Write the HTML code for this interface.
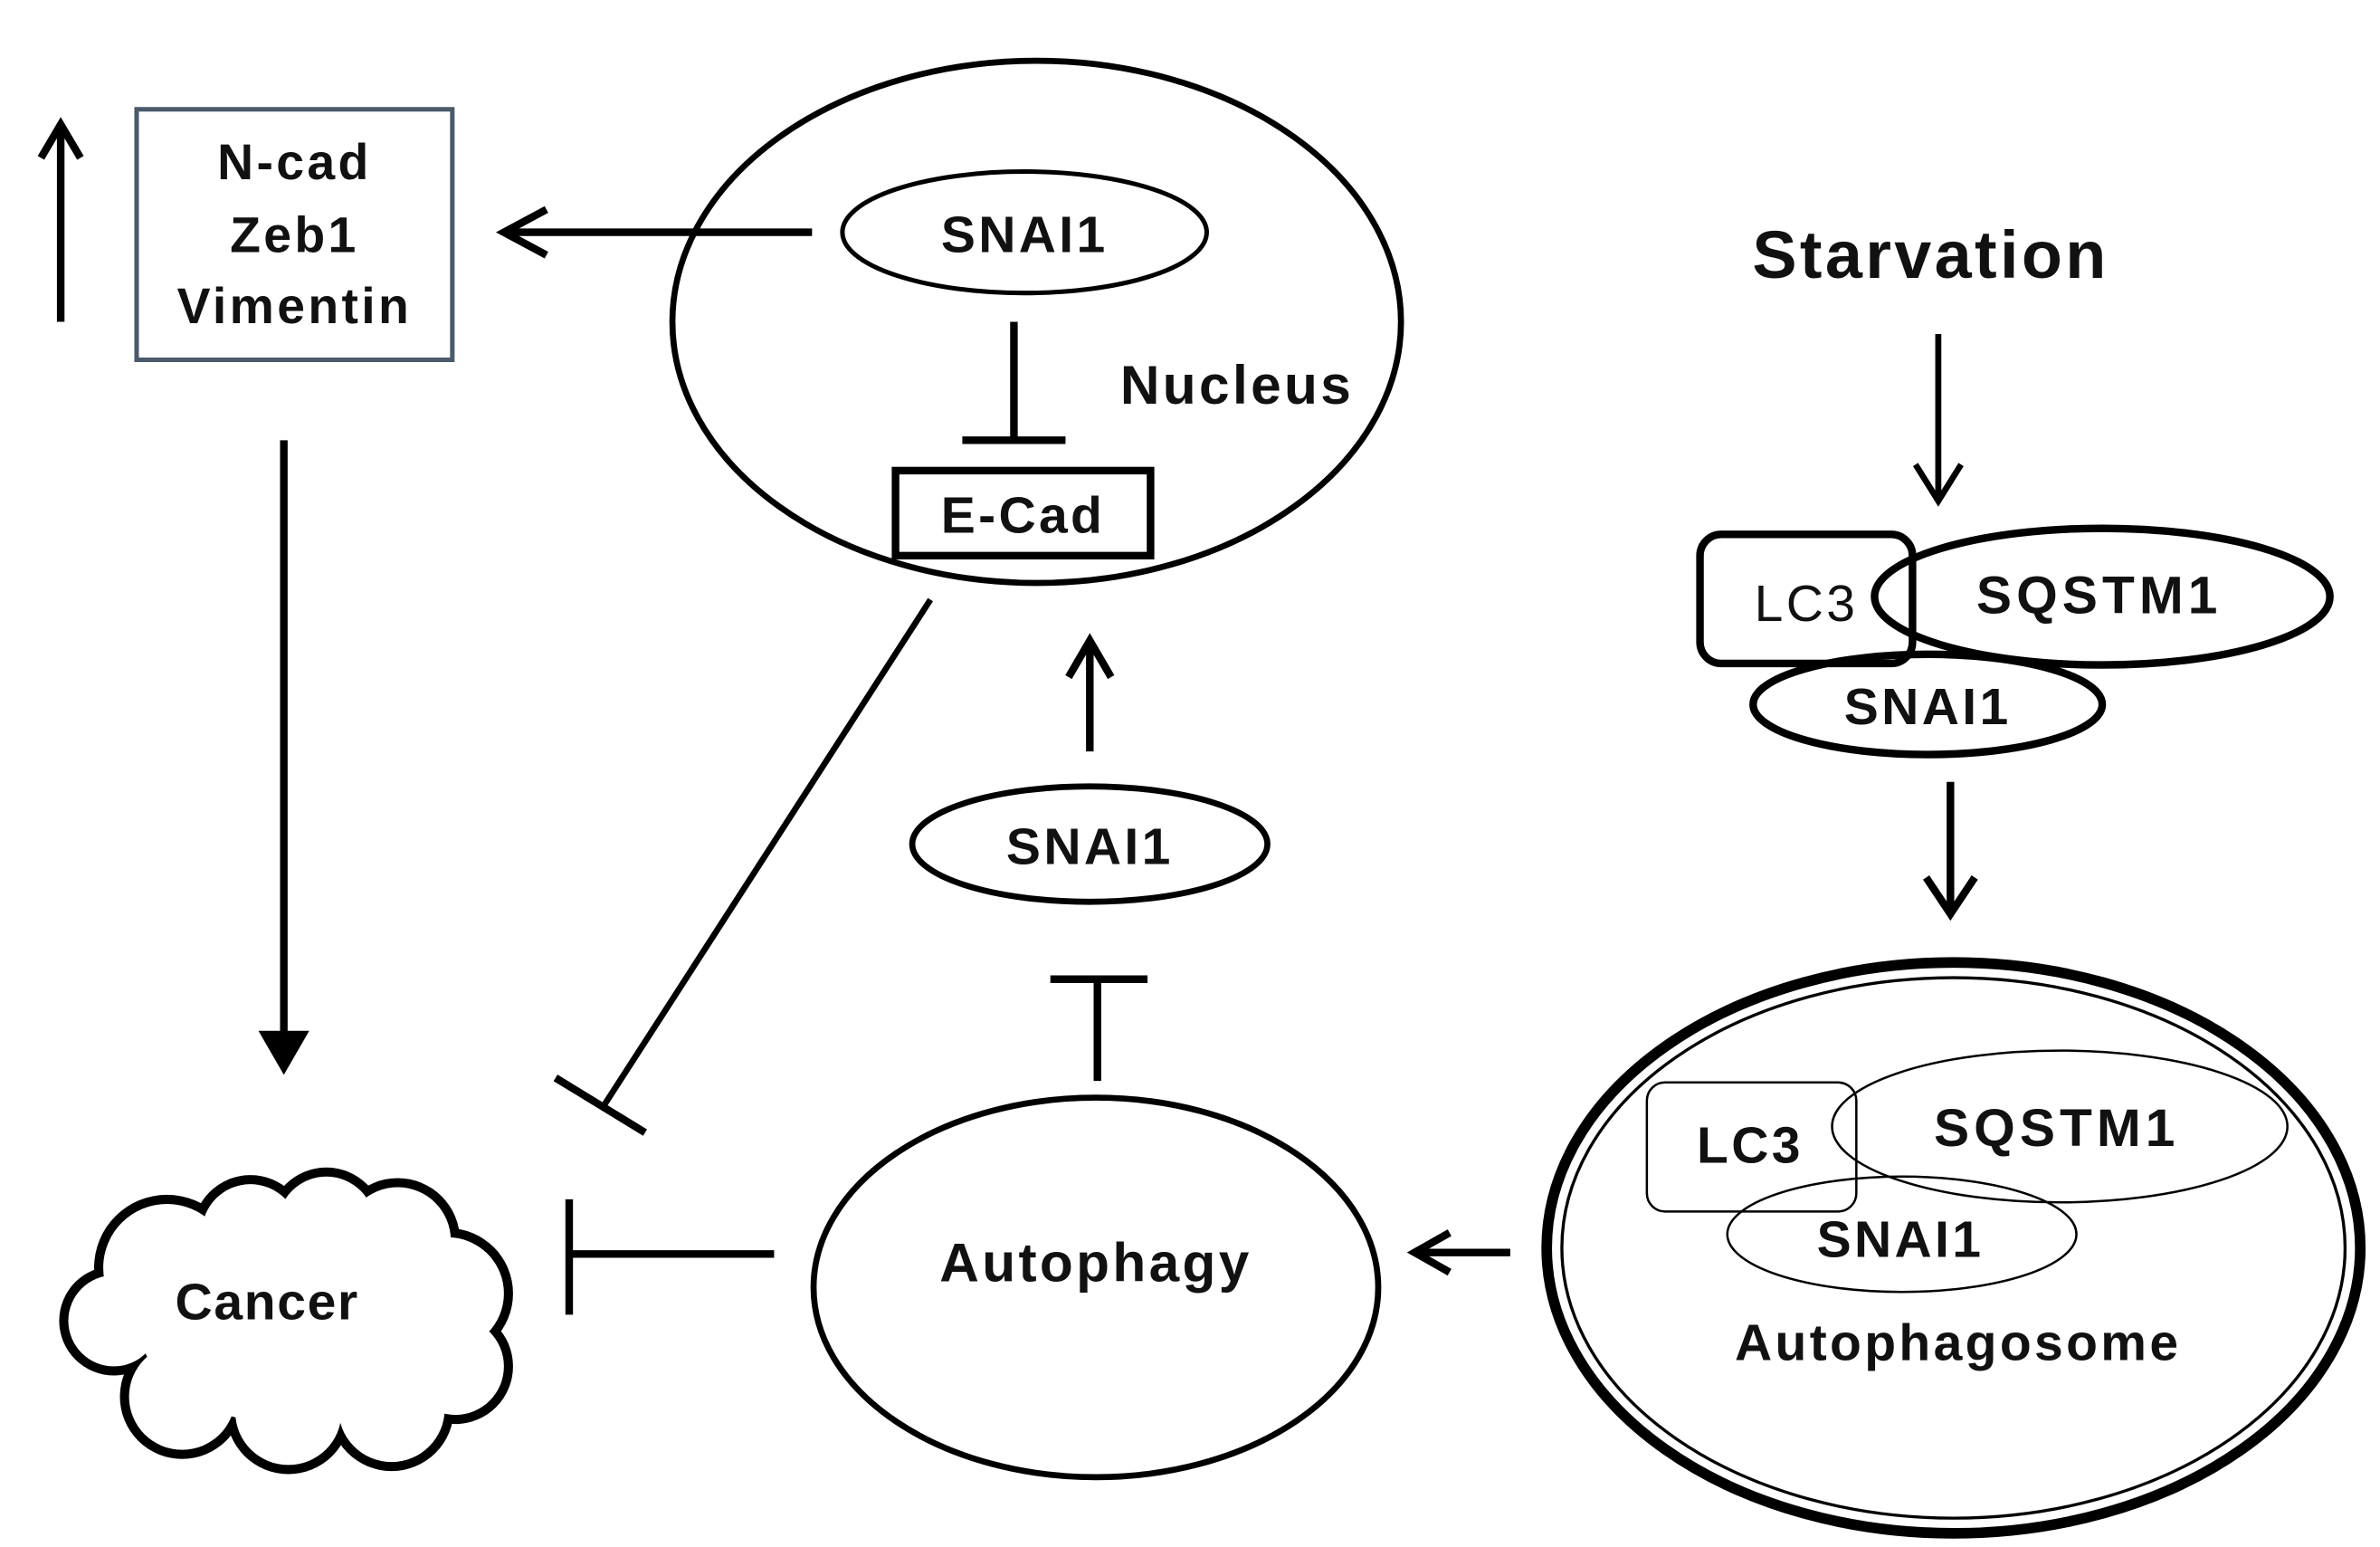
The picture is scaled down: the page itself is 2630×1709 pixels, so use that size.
<!DOCTYPE html>
<html><head><meta charset="utf-8"><style>
html,body{margin:0;padding:0;background:#fff}
svg{display:block}
text{font-family:"Liberation Sans",Arial,sans-serif;font-weight:bold;fill:#111;text-anchor:middle;letter-spacing:2px}
</style></head><body>
<svg width="2630" height="1709" viewBox="0 0 1568 1019" preserveAspectRatio="none" xmlns="http://www.w3.org/2000/svg">
<g stroke="#000" fill="none" stroke-linecap="butt">
<line x1="40" y1="212" x2="40" y2="84" stroke-width="5"/>
<path d="M27,104 L40,82 L53,104" stroke-width="5"/>
<rect x="90" y="72" width="208" height="165" stroke="#4a5a6a" stroke-width="3"/>
<line x1="535" y1="153" x2="334" y2="153" stroke-width="5"/>
<path d="M360,138 L332,153 L360,168" stroke-width="5"/>
<ellipse cx="683" cy="212" rx="240" ry="172" stroke-width="4"/>
<ellipse cx="675" cy="153" rx="120" ry="40" stroke-width="3"/>
<line x1="668" y1="212" x2="668" y2="290" stroke-width="5"/>
<line x1="634" y1="290" x2="702" y2="290" stroke-width="5"/>
<rect x="590" y="310" width="168" height="56" stroke-width="5"/>
<line x1="1277" y1="220" x2="1277" y2="328" stroke-width="4"/>
<path d="M1262,306 L1277,330 L1292,306" stroke-width="4"/>
<rect x="1120" y="352" width="140" height="85" rx="14" stroke-width="5"/>
<ellipse cx="1385" cy="393" rx="150" ry="45" stroke-width="5"/>
<ellipse cx="1270" cy="464" rx="115" ry="33" stroke-width="5"/>
<line x1="1285" y1="515" x2="1285" y2="600" stroke-width="5"/>
<path d="M1269,578 L1285,602 L1301,578" stroke-width="5"/>
<ellipse cx="1287" cy="822" rx="268" ry="188" stroke-width="7"/>
<ellipse cx="1287" cy="822" rx="258" ry="178" stroke-width="2"/>
<rect x="1085" y="713" width="138" height="85" rx="12" stroke-width="1.5"/>
<ellipse cx="1357" cy="742" rx="150" ry="50" stroke-width="1.5"/>
<ellipse cx="1253" cy="813" rx="115" ry="38" stroke-width="1.5"/>
<line x1="995" y1="825" x2="934" y2="825" stroke-width="5"/>
<path d="M955,812 L932,825 L955,838" stroke-width="5"/>
<ellipse cx="722" cy="848" rx="186" ry="125" stroke-width="4"/>
<line x1="723" y1="712" x2="723" y2="645" stroke-width="5"/>
<line x1="692" y1="645" x2="756" y2="645" stroke-width="5"/>
<ellipse cx="718" cy="556" rx="117" ry="38" stroke-width="4"/>
<line x1="718" y1="495" x2="718" y2="424" stroke-width="5"/>
<path d="M704,446 L718,422 L732,446" stroke-width="5"/>
<line x1="613" y1="395" x2="398" y2="728" stroke-width="4"/>
<line x1="366" y1="710" x2="425" y2="746" stroke-width="5"/>
<line x1="510" y1="826" x2="375" y2="826" stroke-width="5"/>
<line x1="375" y1="790" x2="375" y2="866" stroke-width="5"/>
<line x1="187" y1="290" x2="187" y2="690" stroke-width="5"/>
<path d="M172,680 L187,706 L202,680 Z" fill="#000" stroke-width="2"/>
</g>
<g fill="#000">
<circle cx="110" cy="835" r="48"/><circle cx="165" cy="812" r="38"/><circle cx="215" cy="807" r="38"/>
<circle cx="262" cy="817" r="41"/><circle cx="295" cy="852" r="43"/><circle cx="300" cy="900" r="38"/>
<circle cx="258" cy="928" r="41"/><circle cx="190" cy="930" r="41"/><circle cx="120" cy="920" r="41"/>
<circle cx="75" cy="870" r="36"/>
</g>
<g fill="#fff">
<circle cx="110" cy="835" r="42"/><circle cx="165" cy="812" r="32"/><circle cx="215" cy="807" r="32"/>
<circle cx="262" cy="817" r="35"/><circle cx="295" cy="852" r="37"/><circle cx="300" cy="900" r="32"/>
<circle cx="258" cy="928" r="35"/><circle cx="190" cy="930" r="35"/><circle cx="120" cy="920" r="35"/>
<circle cx="75" cy="870" r="30"/><ellipse cx="190" cy="868" rx="100" ry="70"/>
</g>
<text x="194" y="118" font-size="33">N-cad</text>
<text x="194" y="166" font-size="33">Zeb1</text>
<text x="194" y="213" font-size="33">Vimentin</text>
<text x="675" y="166" font-size="34">SNAI1</text>
<text x="815" y="266" font-size="36">Nucleus</text>
<text x="674" y="351" font-size="34">E-Cad</text>
<text x="1272" y="183" font-size="44">Starvation</text>
<text x="1190" y="409" font-size="34" style="font-weight:normal">LC3</text>
<text x="1383" y="404" font-size="35" style="letter-spacing:3px">SQSTM1</text>
<text x="1270" y="477" font-size="34">SNAI1</text>
<text x="1153" y="766" font-size="34">LC3</text>
<text x="1355" y="755" font-size="35" style="letter-spacing:3px">SQSTM1</text>
<text x="1252" y="828" font-size="34">SNAI1</text>
<text x="1290" y="896" font-size="34">Autophagosome</text>
<text x="722" y="844" font-size="36">Autophagy</text>
<text x="718" y="569" font-size="34">SNAI1</text>
<text x="176" y="869" font-size="34" style="letter-spacing:1px">Cancer</text>
</svg>
</body></html>
